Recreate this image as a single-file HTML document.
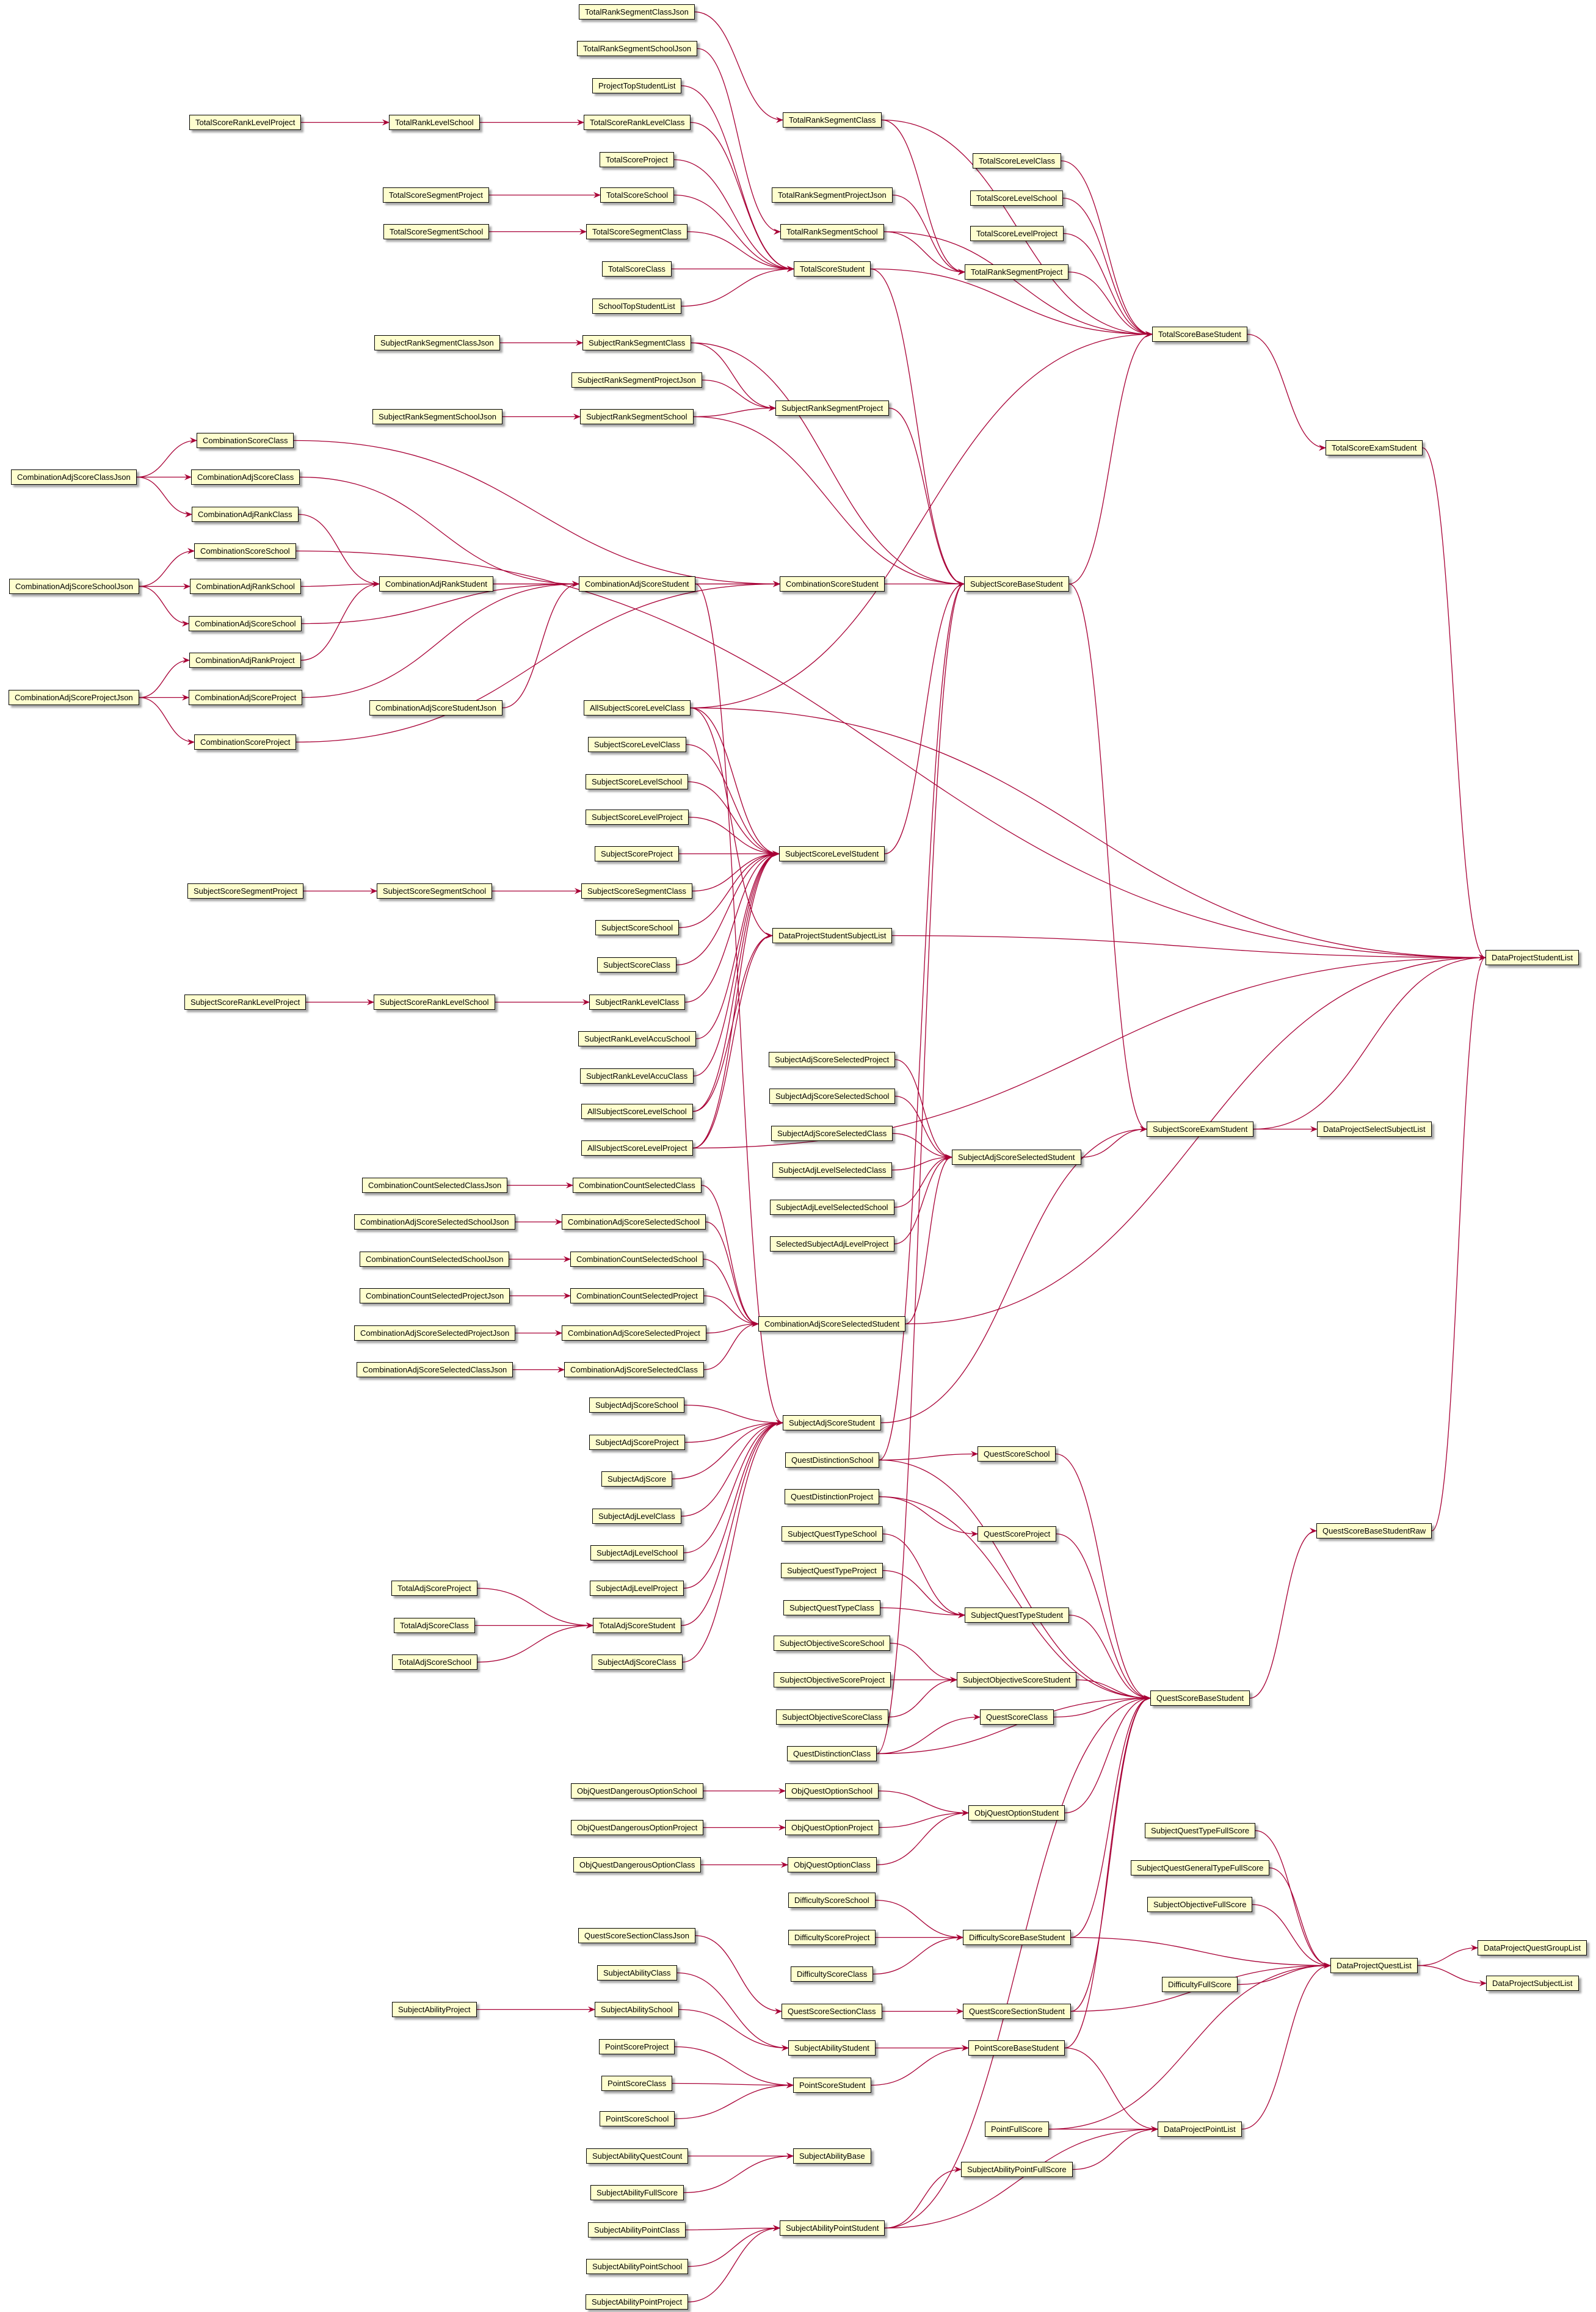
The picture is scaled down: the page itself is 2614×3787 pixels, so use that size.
<!DOCTYPE html>
<html><head><meta charset="utf-8">
<style>
html,body{margin:0;padding:0;background:#fff;}
#wrap{position:relative;width:2614px;height:3787px;overflow:hidden;background:#fff;}
svg{position:absolute;left:0;top:0;}
.n{position:absolute;height:23px;line-height:23px;padding:0 9px;background:#FEFECE;border:1.5px solid #000;
font-family:"Liberation Sans",sans-serif;font-size:13px;color:#000;white-space:nowrap;box-shadow:4px 4px 3px rgba(0,0,0,0.35);box-sizing:content-box;}
</style></head><body>
<div id="wrap">
<svg id="sv" width="2614" height="3787" xmlns="http://www.w3.org/2000/svg">
<defs><marker id="a" viewBox="0 0 12 10" refX="11" refY="5" markerWidth="12" markerHeight="10" markerUnits="userSpaceOnUse" orient="auto"><path d="M0,0 L12,5 L0,10 L4,5 z" fill="#A80036"/></marker></defs>
<g id="eg" fill="none" stroke="#A80036" stroke-width="1.3"></g>
</svg>
<div class="n" data-c="166,83">TotalScoreRankLevelProject</div>
<div class="n" data-c="50,323">CombinationAdjScoreClassJson</div>
<div class="n" data-c="50,397">CombinationAdjScoreSchoolJson</div>
<div class="n" data-c="50,472">CombinationAdjScoreProjectJson</div>
<div class="n" data-c="166,603">SubjectScoreSegmentProject</div>
<div class="n" data-c="166,678">SubjectScoreRankLevelProject</div>
<div class="n" data-c="294,83">TotalRankLevelSchool</div>
<div class="n" data-c="295,132">TotalScoreSegmentProject</div>
<div class="n" data-c="295,157">TotalScoreSegmentSchool</div>
<div class="n" data-c="296,232">SubjectRankSegmentClassJson</div>
<div class="n" data-c="296,282">SubjectRankSegmentSchoolJson</div>
<div class="n" data-c="166,298">CombinationScoreClass</div>
<div class="n" data-c="166,323">CombinationAdjScoreClass</div>
<div class="n" data-c="166,348">CombinationAdjRankClass</div>
<div class="n" data-c="166,373">CombinationScoreSchool</div>
<div class="n" data-c="166,397">CombinationAdjRankSchool</div>
<div class="n" data-c="166,422">CombinationAdjScoreSchool</div>
<div class="n" data-c="166,447">CombinationAdjRankProject</div>
<div class="n" data-c="166,472">CombinationAdjScoreProject</div>
<div class="n" data-c="166,502">CombinationScoreProject</div>
<div class="n" data-c="295,395">CombinationAdjRankStudent</div>
<div class="n" data-c="295,479">CombinationAdjScoreStudentJson</div>
<div class="n" data-c="294,603">SubjectScoreSegmentSchool</div>
<div class="n" data-c="294,678">SubjectScoreRankLevelSchool</div>
<div class="n" data-c="294,802">CombinationCountSelectedClassJson</div>
<div class="n" data-c="294,827">CombinationAdjScoreSelectedSchoolJson</div>
<div class="n" data-c="294,852">CombinationCountSelectedSchoolJson</div>
<div class="n" data-c="294,877">CombinationCountSelectedProjectJson</div>
<div class="n" data-c="294,902">CombinationAdjScoreSelectedProjectJson</div>
<div class="n" data-c="294,927">CombinationAdjScoreSelectedClassJson</div>
<div class="n" data-c="294,1075">TotalAdjScoreProject</div>
<div class="n" data-c="294,1100">TotalAdjScoreClass</div>
<div class="n" data-c="294,1125">TotalAdjScoreSchool</div>
<div class="n" data-c="294,1360">SubjectAbilityProject</div>
<div class="n" data-c="431,8">TotalRankSegmentClassJson</div>
<div class="n" data-c="431,33">TotalRankSegmentSchoolJson</div>
<div class="n" data-c="431,58">ProjectTopStudentList</div>
<div class="n" data-c="431,83">TotalScoreRankLevelClass</div>
<div class="n" data-c="431,108">TotalScoreProject</div>
<div class="n" data-c="431,132">TotalScoreSchool</div>
<div class="n" data-c="431,157">TotalScoreSegmentClass</div>
<div class="n" data-c="431,182">TotalScoreClass</div>
<div class="n" data-c="431,207">SchoolTopStudentList</div>
<div class="n" data-c="431,232">SubjectRankSegmentClass</div>
<div class="n" data-c="431,257">SubjectRankSegmentProjectJson</div>
<div class="n" data-c="431,282">SubjectRankSegmentSchool</div>
<div class="n" data-c="431,395">CombinationAdjScoreStudent</div>
<div class="n" data-c="431,479">AllSubjectScoreLevelClass</div>
<div class="n" data-c="431,504">SubjectScoreLevelClass</div>
<div class="n" data-c="431,529">SubjectScoreLevelSchool</div>
<div class="n" data-c="431,553">SubjectScoreLevelProject</div>
<div class="n" data-c="431,578">SubjectScoreProject</div>
<div class="n" data-c="431,603">SubjectScoreSegmentClass</div>
<div class="n" data-c="431,628">SubjectScoreSchool</div>
<div class="n" data-c="431,653">SubjectScoreClass</div>
<div class="n" data-c="431,678">SubjectRankLevelClass</div>
<div class="n" data-c="431,703">SubjectRankLevelAccuSchool</div>
<div class="n" data-c="431,728">SubjectRankLevelAccuClass</div>
<div class="n" data-c="431,752">AllSubjectScoreLevelSchool</div>
<div class="n" data-c="431,777">AllSubjectScoreLevelProject</div>
<div class="n" data-c="431,802">CombinationCountSelectedClass</div>
<div class="n" data-c="429,827">CombinationAdjScoreSelectedSchool</div>
<div class="n" data-c="431,852">CombinationCountSelectedSchool</div>
<div class="n" data-c="431,877">CombinationCountSelectedProject</div>
<div class="n" data-c="429,902">CombinationAdjScoreSelectedProject</div>
<div class="n" data-c="429,927">CombinationAdjScoreSelectedClass</div>
<div class="n" data-c="431,951">SubjectAdjScoreSchool</div>
<div class="n" data-c="431,976">SubjectAdjScoreProject</div>
<div class="n" data-c="431,1001">SubjectAdjScore</div>
<div class="n" data-c="431,1026">SubjectAdjLevelClass</div>
<div class="n" data-c="431,1051">SubjectAdjLevelSchool</div>
<div class="n" data-c="431,1075">SubjectAdjLevelProject</div>
<div class="n" data-c="431,1100">TotalAdjScoreStudent</div>
<div class="n" data-c="431,1125">SubjectAdjScoreClass</div>
<div class="n" data-c="431,1212">ObjQuestDangerousOptionSchool</div>
<div class="n" data-c="431,1237">ObjQuestDangerousOptionProject</div>
<div class="n" data-c="431,1262">ObjQuestDangerousOptionClass</div>
<div class="n" data-c="431,1310">QuestScoreSectionClassJson</div>
<div class="n" data-c="431,1335">SubjectAbilityClass</div>
<div class="n" data-c="431,1360">SubjectAbilitySchool</div>
<div class="n" data-c="431,1385">PointScoreProject</div>
<div class="n" data-c="431,1410">PointScoreClass</div>
<div class="n" data-c="431,1434">PointScoreSchool</div>
<div class="n" data-c="431,1459">SubjectAbilityQuestCount</div>
<div class="n" data-c="431,1484">SubjectAbilityFullScore</div>
<div class="n" data-c="431,1509">SubjectAbilityPointClass</div>
<div class="n" data-c="431,1534">SubjectAbilityPointSchool</div>
<div class="n" data-c="431,1558">SubjectAbilityPointProject</div>
<div class="n" data-c="563,81">TotalRankSegmentClass</div>
<div class="n" data-c="563,132">TotalRankSegmentProjectJson</div>
<div class="n" data-c="563,157">TotalRankSegmentSchool</div>
<div class="n" data-c="563,182">TotalScoreStudent</div>
<div class="n" data-c="563,276">SubjectRankSegmentProject</div>
<div class="n" data-c="563,395">CombinationScoreStudent</div>
<div class="n" data-c="563,578">SubjectScoreLevelStudent</div>
<div class="n" data-c="563,633">DataProjectStudentSubjectList</div>
<div class="n" data-c="563,717">SubjectAdjScoreSelectedProject</div>
<div class="n" data-c="563,742">SubjectAdjScoreSelectedSchool</div>
<div class="n" data-c="563,767">SubjectAdjScoreSelectedClass</div>
<div class="n" data-c="563,792">SubjectAdjLevelSelectedClass</div>
<div class="n" data-c="563,817">SubjectAdjLevelSelectedSchool</div>
<div class="n" data-c="563,842">SelectedSubjectAdjLevelProject</div>
<div class="n" data-c="563,896">CombinationAdjScoreSelectedStudent</div>
<div class="n" data-c="563,963">SubjectAdjScoreStudent</div>
<div class="n" data-c="563,988">QuestDistinctionSchool</div>
<div class="n" data-c="563,1013">QuestDistinctionProject</div>
<div class="n" data-c="563,1038">SubjectQuestTypeSchool</div>
<div class="n" data-c="563,1063">SubjectQuestTypeProject</div>
<div class="n" data-c="563,1088">SubjectQuestTypeClass</div>
<div class="n" data-c="563,1112">SubjectObjectiveScoreSchool</div>
<div class="n" data-c="563,1137">SubjectObjectiveScoreProject</div>
<div class="n" data-c="563,1162">SubjectObjectiveScoreClass</div>
<div class="n" data-c="563,1187">QuestDistinctionClass</div>
<div class="n" data-c="563,1212">ObjQuestOptionSchool</div>
<div class="n" data-c="563,1237">ObjQuestOptionProject</div>
<div class="n" data-c="563,1262">ObjQuestOptionClass</div>
<div class="n" data-c="563,1286">DifficultyScoreSchool</div>
<div class="n" data-c="563,1311">DifficultyScoreProject</div>
<div class="n" data-c="563,1336">DifficultyScoreClass</div>
<div class="n" data-c="563,1361">QuestScoreSectionClass</div>
<div class="n" data-c="563,1386">SubjectAbilityStudent</div>
<div class="n" data-c="563,1411">PointScoreStudent</div>
<div class="n" data-c="563,1459">SubjectAbilityBase</div>
<div class="n" data-c="563,1508">SubjectAbilityPointStudent</div>
<div class="n" data-c="688,109">TotalScoreLevelClass</div>
<div class="n" data-c="688,134">TotalScoreLevelSchool</div>
<div class="n" data-c="688,158">TotalScoreLevelProject</div>
<div class="n" data-c="688,184">TotalRankSegmentProject</div>
<div class="n" data-c="688,395">SubjectScoreBaseStudent</div>
<div class="n" data-c="688,783">SubjectAdjScoreSelectedStudent</div>
<div class="n" data-c="688,984">QuestScoreSchool</div>
<div class="n" data-c="688,1038">QuestScoreProject</div>
<div class="n" data-c="688,1093">SubjectQuestTypeStudent</div>
<div class="n" data-c="688,1137">SubjectObjectiveScoreStudent</div>
<div class="n" data-c="688,1162">QuestScoreClass</div>
<div class="n" data-c="688,1227">ObjQuestOptionStudent</div>
<div class="n" data-c="688,1311">DifficultyScoreBaseStudent</div>
<div class="n" data-c="688,1361">QuestScoreSectionStudent</div>
<div class="n" data-c="688,1386">PointScoreBaseStudent</div>
<div class="n" data-c="688,1441">PointFullScore</div>
<div class="n" data-c="688,1468">SubjectAbilityPointFullScore</div>
<div class="n" data-c="812,226">TotalScoreBaseStudent</div>
<div class="n" data-c="812,764">SubjectScoreExamStudent</div>
<div class="n" data-c="812,1149">QuestScoreBaseStudent</div>
<div class="n" data-c="812,1239">SubjectQuestTypeFullScore</div>
<div class="n" data-c="812,1264">SubjectQuestGeneralTypeFullScore</div>
<div class="n" data-c="812,1289">SubjectObjectiveFullScore</div>
<div class="n" data-c="812,1343">DifficultyFullScore</div>
<div class="n" data-c="812,1441">DataProjectPointList</div>
<div class="n" data-c="930,303">TotalScoreExamStudent</div>
<div class="n" data-c="930,764">DataProjectSelectSubjectList</div>
<div class="n" data-c="930,1036">QuestScoreBaseStudentRaw</div>
<div class="n" data-c="930,1330">DataProjectQuestList</div>
<div class="n" data-c="1037,648">DataProjectStudentList</div>
<div class="n" data-c="1037,1318">DataProjectQuestGroupList</div>
<div class="n" data-c="1037,1342">DataProjectSubjectList</div>
</div>
<script>
var S=2614/1080;
var N={};
document.querySelectorAll('.n').forEach(function(d){
 var c=d.getAttribute('data-c').split(',');
 var cx=+c[0]*S, cy=+c[1]*S;
 var w=d.offsetWidth, h=d.offsetHeight;
 var l=Math.round(cx-w/2); if(l<3)l=3; if(l+w>2606)l=2606-w;
 var t=Math.round(cy-h/2); if(t<3)t=3;
 d.style.left=l+'px'; d.style.top=t+'px';
 N[d.textContent]={l:l,t:t,w:w,h:h};
});
var E=`TotalScoreRankLevelProject>TotalRankLevelSchool
TotalRankLevelSchool>TotalScoreRankLevelClass
TotalScoreRankLevelClass>TotalScoreStudent
TotalRankSegmentClassJson>TotalRankSegmentClass
TotalRankSegmentSchoolJson>TotalRankSegmentSchool
ProjectTopStudentList>TotalScoreStudent
TotalScoreProject>TotalScoreStudent
TotalScoreSegmentProject>TotalScoreSchool
TotalScoreSchool>TotalScoreStudent
TotalScoreSegmentSchool>TotalScoreSegmentClass
TotalScoreSegmentClass>TotalScoreStudent
TotalScoreClass>TotalScoreStudent
SchoolTopStudentList>TotalScoreStudent
TotalRankSegmentClass>TotalScoreBaseStudent
TotalRankSegmentClass>TotalRankSegmentProject
TotalRankSegmentProjectJson>TotalRankSegmentProject
TotalRankSegmentSchool>TotalRankSegmentProject
TotalRankSegmentSchool>TotalScoreBaseStudent
TotalScoreStudent>TotalScoreBaseStudent
TotalScoreLevelClass>TotalScoreBaseStudent
TotalScoreLevelSchool>TotalScoreBaseStudent
TotalScoreLevelProject>TotalScoreBaseStudent
TotalRankSegmentProject>TotalScoreBaseStudent
TotalScoreBaseStudent>TotalScoreExamStudent
TotalScoreExamStudent>DataProjectStudentList
TotalScoreStudent>SubjectScoreBaseStudent
SubjectRankSegmentClassJson>SubjectRankSegmentClass
SubjectRankSegmentClass>SubjectRankSegmentProject
SubjectRankSegmentClass>SubjectScoreBaseStudent
SubjectRankSegmentProjectJson>SubjectRankSegmentProject
SubjectRankSegmentSchoolJson>SubjectRankSegmentSchool
SubjectRankSegmentSchool>SubjectRankSegmentProject
SubjectRankSegmentSchool>SubjectScoreBaseStudent
SubjectRankSegmentProject>SubjectScoreBaseStudent
SubjectScoreBaseStudent>TotalScoreBaseStudent
SubjectScoreBaseStudent>SubjectScoreExamStudent
CombinationAdjScoreClassJson>CombinationScoreClass
CombinationAdjScoreClassJson>CombinationAdjScoreClass
CombinationAdjScoreClassJson>CombinationAdjRankClass
CombinationAdjScoreSchoolJson>CombinationScoreSchool
CombinationAdjScoreSchoolJson>CombinationAdjRankSchool
CombinationAdjScoreSchoolJson>CombinationAdjScoreSchool
CombinationAdjScoreProjectJson>CombinationAdjRankProject
CombinationAdjScoreProjectJson>CombinationAdjScoreProject
CombinationAdjScoreProjectJson>CombinationScoreProject
CombinationScoreClass>CombinationScoreStudent
CombinationAdjScoreClass>CombinationAdjScoreStudent
CombinationAdjRankClass>CombinationAdjRankStudent
CombinationScoreSchool>DataProjectStudentList
CombinationAdjRankSchool>CombinationAdjRankStudent
CombinationAdjScoreSchool>CombinationAdjScoreStudent
CombinationAdjRankProject>CombinationAdjRankStudent
CombinationAdjScoreProject>CombinationAdjScoreStudent
CombinationScoreProject>CombinationScoreStudent
CombinationAdjRankStudent>CombinationAdjScoreStudent
CombinationAdjRankStudent>CombinationScoreStudent
CombinationAdjScoreStudentJson>CombinationAdjScoreStudent
CombinationAdjScoreStudent>CombinationScoreStudent
CombinationAdjScoreStudent>SubjectAdjScoreStudent
CombinationScoreStudent>SubjectScoreBaseStudent
AllSubjectScoreLevelClass>SubjectScoreLevelStudent
AllSubjectScoreLevelClass>TotalScoreBaseStudent
AllSubjectScoreLevelClass>DataProjectStudentList
AllSubjectScoreLevelClass>DataProjectStudentSubjectList
SubjectScoreLevelClass>SubjectScoreLevelStudent
SubjectScoreLevelSchool>SubjectScoreLevelStudent
SubjectScoreLevelProject>SubjectScoreLevelStudent
SubjectScoreProject>SubjectScoreLevelStudent
SubjectScoreSegmentClass>SubjectScoreLevelStudent
SubjectScoreSchool>SubjectScoreLevelStudent
SubjectScoreClass>SubjectScoreLevelStudent
SubjectRankLevelClass>SubjectScoreLevelStudent
SubjectRankLevelAccuSchool>SubjectScoreLevelStudent
SubjectRankLevelAccuClass>SubjectScoreLevelStudent
AllSubjectScoreLevelSchool>SubjectScoreLevelStudent
AllSubjectScoreLevelProject>SubjectScoreLevelStudent
SubjectScoreSegmentProject>SubjectScoreSegmentSchool
SubjectScoreSegmentSchool>SubjectScoreSegmentClass
SubjectScoreRankLevelProject>SubjectScoreRankLevelSchool
SubjectScoreRankLevelSchool>SubjectRankLevelClass
SubjectScoreLevelStudent>SubjectScoreBaseStudent
DataProjectStudentSubjectList>DataProjectStudentList
AllSubjectScoreLevelSchool>DataProjectStudentSubjectList
AllSubjectScoreLevelProject>DataProjectStudentSubjectList
AllSubjectScoreLevelProject>DataProjectStudentList
SubjectAdjScoreSelectedProject>SubjectAdjScoreSelectedStudent
SubjectAdjScoreSelectedSchool>SubjectAdjScoreSelectedStudent
SubjectAdjScoreSelectedClass>SubjectAdjScoreSelectedStudent
SubjectAdjLevelSelectedClass>SubjectAdjScoreSelectedStudent
SubjectAdjLevelSelectedSchool>SubjectAdjScoreSelectedStudent
SelectedSubjectAdjLevelProject>SubjectAdjScoreSelectedStudent
SubjectAdjScoreSelectedStudent>SubjectScoreExamStudent
SubjectScoreExamStudent>DataProjectSelectSubjectList
SubjectScoreExamStudent>DataProjectStudentList
CombinationCountSelectedClassJson>CombinationCountSelectedClass
CombinationAdjScoreSelectedSchoolJson>CombinationAdjScoreSelectedSchool
CombinationCountSelectedSchoolJson>CombinationCountSelectedSchool
CombinationCountSelectedProjectJson>CombinationCountSelectedProject
CombinationAdjScoreSelectedProjectJson>CombinationAdjScoreSelectedProject
CombinationAdjScoreSelectedClassJson>CombinationAdjScoreSelectedClass
CombinationCountSelectedClass>CombinationAdjScoreSelectedStudent
CombinationAdjScoreSelectedSchool>CombinationAdjScoreSelectedStudent
CombinationCountSelectedSchool>CombinationAdjScoreSelectedStudent
CombinationCountSelectedProject>CombinationAdjScoreSelectedStudent
CombinationAdjScoreSelectedProject>CombinationAdjScoreSelectedStudent
CombinationAdjScoreSelectedClass>CombinationAdjScoreSelectedStudent
CombinationAdjScoreSelectedStudent>SubjectAdjScoreSelectedStudent
CombinationAdjScoreSelectedStudent>DataProjectStudentList
SubjectAdjScoreSchool>SubjectAdjScoreStudent
SubjectAdjScoreProject>SubjectAdjScoreStudent
SubjectAdjScore>SubjectAdjScoreStudent
SubjectAdjLevelClass>SubjectAdjScoreStudent
SubjectAdjLevelSchool>SubjectAdjScoreStudent
SubjectAdjLevelProject>SubjectAdjScoreStudent
SubjectAdjScoreClass>SubjectAdjScoreStudent
TotalAdjScoreProject>TotalAdjScoreStudent
TotalAdjScoreClass>TotalAdjScoreStudent
TotalAdjScoreSchool>TotalAdjScoreStudent
TotalAdjScoreStudent>SubjectAdjScoreStudent
SubjectAdjScoreStudent>SubjectScoreExamStudent
QuestDistinctionSchool>QuestScoreSchool
QuestDistinctionSchool>QuestScoreBaseStudent
QuestDistinctionSchool>SubjectScoreBaseStudent
QuestDistinctionProject>QuestScoreProject
QuestDistinctionProject>QuestScoreBaseStudent
SubjectQuestTypeSchool>SubjectQuestTypeStudent
SubjectQuestTypeProject>SubjectQuestTypeStudent
SubjectQuestTypeClass>SubjectQuestTypeStudent
SubjectQuestTypeStudent>QuestScoreBaseStudent
SubjectObjectiveScoreSchool>SubjectObjectiveScoreStudent
SubjectObjectiveScoreProject>SubjectObjectiveScoreStudent
SubjectObjectiveScoreClass>SubjectObjectiveScoreStudent
SubjectObjectiveScoreStudent>QuestScoreBaseStudent
QuestDistinctionClass>QuestScoreClass
QuestDistinctionClass>QuestScoreBaseStudent
QuestDistinctionClass>SubjectScoreBaseStudent
QuestScoreSchool>QuestScoreBaseStudent
QuestScoreProject>QuestScoreBaseStudent
QuestScoreClass>QuestScoreBaseStudent
ObjQuestDangerousOptionSchool>ObjQuestOptionSchool
ObjQuestDangerousOptionProject>ObjQuestOptionProject
ObjQuestDangerousOptionClass>ObjQuestOptionClass
ObjQuestOptionSchool>ObjQuestOptionStudent
ObjQuestOptionProject>ObjQuestOptionStudent
ObjQuestOptionClass>ObjQuestOptionStudent
ObjQuestOptionStudent>QuestScoreBaseStudent
DifficultyScoreSchool>DifficultyScoreBaseStudent
DifficultyScoreProject>DifficultyScoreBaseStudent
DifficultyScoreClass>DifficultyScoreBaseStudent
DifficultyScoreBaseStudent>QuestScoreBaseStudent
DifficultyScoreBaseStudent>DataProjectQuestList
QuestScoreSectionClassJson>QuestScoreSectionClass
QuestScoreSectionClass>QuestScoreSectionStudent
QuestScoreSectionStudent>QuestScoreBaseStudent
QuestScoreSectionStudent>DataProjectQuestList
SubjectAbilityProject>SubjectAbilitySchool
SubjectAbilitySchool>SubjectAbilityStudent
SubjectAbilityClass>SubjectAbilityStudent
SubjectAbilityStudent>PointScoreBaseStudent
PointScoreProject>PointScoreStudent
PointScoreClass>PointScoreStudent
PointScoreSchool>PointScoreStudent
PointScoreStudent>PointScoreBaseStudent
PointScoreBaseStudent>QuestScoreBaseStudent
PointScoreBaseStudent>DataProjectPointList
SubjectAbilityQuestCount>SubjectAbilityBase
SubjectAbilityFullScore>SubjectAbilityBase
SubjectAbilityPointClass>SubjectAbilityPointStudent
SubjectAbilityPointSchool>SubjectAbilityPointStudent
SubjectAbilityPointProject>SubjectAbilityPointStudent
SubjectAbilityPointStudent>SubjectAbilityPointFullScore
SubjectAbilityPointStudent>DataProjectPointList
SubjectAbilityPointStudent>QuestScoreBaseStudent
SubjectAbilityPointFullScore>DataProjectPointList
PointFullScore>DataProjectPointList
PointFullScore>DataProjectQuestList
DataProjectPointList>DataProjectQuestList
SubjectQuestTypeFullScore>DataProjectQuestList
SubjectQuestGeneralTypeFullScore>DataProjectQuestList
SubjectObjectiveFullScore>DataProjectQuestList
DifficultyFullScore>DataProjectQuestList
DataProjectQuestList>DataProjectQuestGroupList
DataProjectQuestList>DataProjectSubjectList
QuestScoreBaseStudent>QuestScoreBaseStudentRaw
QuestScoreBaseStudentRaw>DataProjectStudentList`.split('\n');
var g=document.getElementById('eg'),out='';
E.forEach(function(e){
 var p=e.split('>'),a=N[p[0]],b=N[p[1]]; if(!a||!b)return;
 var ax=a.l+a.w, ay=a.t+a.h/2, bx=b.l, by=b.t+b.h/2, d;
 if(bx>ax+20){
  var dx=(bx-ax)*0.5;
  d='M'+ax+','+ay+' C'+(ax+dx)+','+ay+' '+(bx-dx)+','+by+' '+bx+','+by;
 } else {
  // vertical-ish: go from source right/top to target bottom/top centre
  var tx=b.l+b.w/2, ty=(by>ay)?b.t:b.t+b.h;
  d='M'+ax+','+ay+' C'+(ax+80)+','+ay+' '+tx+','+(ty+(by>ay?-80:80))+' '+tx+','+ty;
 }
 out+='<path d="'+d+'" marker-end="url(#a)"/>';
});
g.innerHTML=out;
</script>
</body></html>
